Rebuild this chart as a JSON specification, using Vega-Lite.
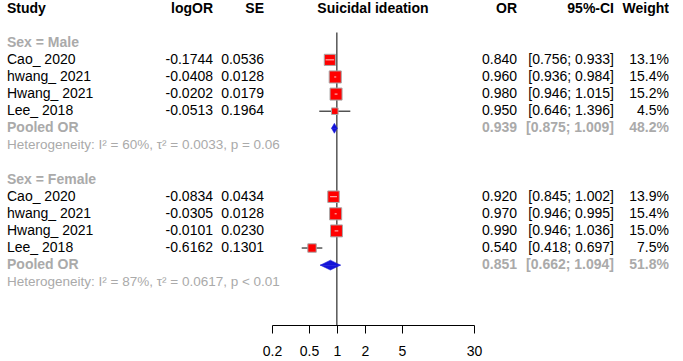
{
  "$schema": "https://vega.github.io/schema/vega-lite/v6.json",
  "padding": {"left": 7, "top": 0, "right": 0, "bottom": 0},
  "spacing": 0,
  "bounds": "flush",
  "config": {
    "view": {"stroke": null},
    "text": {"font": "Liberation Sans", "fontSize": 14, "color": "#000000", "baseline": "middle"},
    "axis": {"labelFont": "Liberation Sans"}
  },
  "datasets": {
    "studies": [
      {"row": 3, "group": "Male", "study": "Cao_ 2020", "logOR": -0.1744, "SE": 0.0536, "OR": 0.840, "lo": 0.756, "hi": 0.933, "weight": 13.1},
      {"row": 4, "group": "Male", "study": "hwang_ 2021", "logOR": -0.0408, "SE": 0.0128, "OR": 0.960, "lo": 0.936, "hi": 0.984, "weight": 15.4},
      {"row": 5, "group": "Male", "study": "Hwang_ 2021", "logOR": -0.0202, "SE": 0.0179, "OR": 0.980, "lo": 0.946, "hi": 1.015, "weight": 15.2},
      {"row": 6, "group": "Male", "study": "Lee_ 2018", "logOR": -0.0513, "SE": 0.1964, "OR": 0.950, "lo": 0.646, "hi": 1.396, "weight": 4.5},
      {"row": 11, "group": "Female", "study": "Cao_ 2020", "logOR": -0.0834, "SE": 0.0434, "OR": 0.920, "lo": 0.845, "hi": 1.002, "weight": 13.9},
      {"row": 12, "group": "Female", "study": "hwang_ 2021", "logOR": -0.0305, "SE": 0.0128, "OR": 0.970, "lo": 0.946, "hi": 0.995, "weight": 15.4},
      {"row": 13, "group": "Female", "study": "Hwang_ 2021", "logOR": -0.0101, "SE": 0.0230, "OR": 0.990, "lo": 0.946, "hi": 1.036, "weight": 15.0},
      {"row": 14, "group": "Female", "study": "Lee_ 2018", "logOR": -0.6162, "SE": 0.1301, "OR": 0.540, "lo": 0.418, "hi": 0.697, "weight": 7.5}
    ],
    "pooled": [
      {"row": 7, "group": "Male", "label": "Pooled OR", "OR": 0.939, "lo": 0.875, "hi": 1.009, "weight": 48.2},
      {"row": 15, "group": "Female", "label": "Pooled OR", "OR": 0.851, "lo": 0.662, "hi": 1.094, "weight": 51.8}
    ],
    "labels": [
      {"row": 2, "kind": "group", "text": "Sex = Male"},
      {"row": 8, "kind": "het", "text": "Heterogeneity: I² = 60%, τ² = 0.0033, p = 0.06"},
      {"row": 10, "kind": "group", "text": "Sex = Female"},
      {"row": 16, "kind": "het", "text": "Heterogeneity: I² = 87%, τ² = 0.0617, p < 0.01"}
    ],
    "headers": [
      {"col": "Study", "text": "Study"},
      {"col": "logOR", "text": "logOR"},
      {"col": "SE", "text": "SE"},
      {"col": "forest", "text": "Suicidal ideation"},
      {"col": "OR", "text": "OR"},
      {"col": "CI", "text": "95%-CI"},
      {"col": "Weight", "text": "Weight"}
    ]
  },
  "hconcat": [
    {
      "width": 150, "height": 325,
      "layer": [
        {"data": {"name": "headers"}, "transform": [{"filter": "datum.col === 'Study'"}],
         "mark": {"type": "text", "align": "left", "fontWeight": "bold"},
         "encoding": {"x": {"value": 0}, "y": {"datum": 0, "type": "quantitative", "scale": {"domain": [-0.5, 18.5], "reverse": true, "nice": false, "zero": false}, "axis": null}, "text": {"field": "text"}}},
        {"data": {"name": "studies"},
         "mark": {"type": "text", "align": "left"},
         "encoding": {"x": {"value": 0}, "y": {"field": "row", "type": "quantitative", "scale": {"domain": [-0.5, 18.5], "reverse": true, "nice": false, "zero": false}, "axis": null}, "text": {"field": "study"}}},
        {"data": {"name": "pooled"},
         "mark": {"type": "text", "align": "left", "fontWeight": "bold", "color": "#aaaaaa"},
         "encoding": {"x": {"value": 0}, "y": {"field": "row", "type": "quantitative", "scale": {"domain": [-0.5, 18.5], "reverse": true, "nice": false, "zero": false}, "axis": null}, "text": {"field": "label"}}},
        {"data": {"name": "labels"}, "transform": [{"filter": "datum.kind === 'group'"}],
         "mark": {"type": "text", "align": "left", "fontWeight": "bold", "color": "#aaaaaa"},
         "encoding": {"x": {"value": 0}, "y": {"field": "row", "type": "quantitative", "scale": {"domain": [-0.5, 18.5], "reverse": true, "nice": false, "zero": false}, "axis": null}, "text": {"field": "text"}}},
        {"data": {"name": "labels"}, "transform": [{"filter": "datum.kind === 'het'"}],
         "mark": {"type": "text", "align": "left", "fontSize": 13.5, "color": "#aaaaaa"},
         "encoding": {"x": {"value": 0}, "y": {"field": "row", "type": "quantitative", "scale": {"domain": [-0.5, 18.5], "reverse": true, "nice": false, "zero": false}, "axis": null}, "text": {"field": "text"}}}
      ]
    },
    {
      "width": 56, "height": 325,
      "layer": [
        {"data": {"name": "headers"}, "transform": [{"filter": "datum.col === 'logOR'"}],
         "mark": {"type": "text", "align": "right", "fontWeight": "bold"},
         "encoding": {"x": {"value": "width"}, "y": {"datum": 0, "type": "quantitative", "scale": {"domain": [-0.5, 18.5], "reverse": true, "nice": false, "zero": false}, "axis": null}, "text": {"field": "text"}}},
        {"data": {"name": "studies"},
         "transform": [{"calculate": "replace(format(datum.logOR, '.4f'), '\u2212', '-')", "as": "lt"}],
         "mark": {"type": "text", "align": "right"},
         "encoding": {"x": {"value": "width"}, "y": {"field": "row", "type": "quantitative", "scale": {"domain": [-0.5, 18.5], "reverse": true, "nice": false, "zero": false}, "axis": null}, "text": {"field": "lt"}}}
      ]
    },
    {
      "width": 59, "height": 325,
      "layer": [
        {"data": {"name": "headers"}, "transform": [{"filter": "datum.col === 'SE'"}],
         "mark": {"type": "text", "align": "right", "fontWeight": "bold", "dx": -8},
         "encoding": {"x": {"value": "width"}, "y": {"datum": 0, "type": "quantitative", "scale": {"domain": [-0.5, 18.5], "reverse": true, "nice": false, "zero": false}, "axis": null}, "text": {"field": "text"}}},
        {"data": {"name": "studies"},
         "mark": {"type": "text", "align": "right", "dx": -8},
         "encoding": {"x": {"value": "width"}, "y": {"field": "row", "type": "quantitative", "scale": {"domain": [-0.5, 18.5], "reverse": true, "nice": false, "zero": false}, "axis": null}, "text": {"field": "SE", "type": "quantitative", "format": ".4f"}}}
      ]
    },
    {
      "width": 202, "height": 325,
      "layer": [
        {"data": {"name": "headers"}, "transform": [{"filter": "datum.col === 'forest'"}],
         "mark": {"type": "text", "align": "center", "fontWeight": "bold"},
         "encoding": {
           "x": {"datum": 2.449, "type": "quantitative", "scale": {"type": "log", "domain": [0.2, 30], "nice": false}, "axis": {"values": [0.2, 0.5, 1, 2, 5, 30], "format": "~g", "title": null, "grid": false, "domainColor": "#000000", "tickColor": "#000000", "tickSize": 8, "labelFontSize": 14, "labelColor": "#000000", "labelPadding": 11, "labelFlush": false, "labelOverlap": false}},
           "y": {"datum": 0, "type": "quantitative", "scale": {"domain": [-0.5, 18.5], "reverse": true, "nice": false, "zero": false}, "axis": null},
           "text": {"field": "text"}}},
        {"data": {"values": [{"ref": 1}]},
         "mark": {"type": "rule", "color": "#000000", "strokeWidth": 1},
         "encoding": {
           "x": {"field": "ref", "type": "quantitative", "scale": {"type": "log", "domain": [0.2, 30], "nice": false}, "axis": {"values": [0.2, 0.5, 1, 2, 5, 30], "format": "~g", "title": null, "grid": false, "domainColor": "#000000", "tickColor": "#000000", "tickSize": 8, "labelFontSize": 14, "labelColor": "#000000", "labelPadding": 11, "labelFlush": false, "labelOverlap": false}},
           "y": {"datum": 1.4, "type": "quantitative", "scale": {"domain": [-0.5, 18.5], "reverse": true, "nice": false, "zero": false}, "axis": null},
           "y2": {"datum": 18.5}}},
        {"data": {"name": "studies"},
         "mark": {"type": "rule", "color": "#000000", "strokeWidth": 1},
         "encoding": {
           "x": {"field": "lo", "type": "quantitative", "scale": {"type": "log", "domain": [0.2, 30], "nice": false}, "axis": {"values": [0.2, 0.5, 1, 2, 5, 30], "format": "~g", "title": null, "grid": false, "domainColor": "#000000", "tickColor": "#000000", "tickSize": 8, "labelFontSize": 14, "labelColor": "#000000", "labelPadding": 11, "labelFlush": false, "labelOverlap": false}},
           "x2": {"field": "hi"},
           "y": {"field": "row", "type": "quantitative", "scale": {"domain": [-0.5, 18.5], "reverse": true, "nice": false, "zero": false}, "axis": null}}},
        {"data": {"name": "studies"},
         "mark": {"type": "point", "shape": "square", "filled": true, "fill": "#ff0000", "stroke": "#a8a8a8", "strokeWidth": 1, "opacity": 1},
         "encoding": {
           "x": {"field": "OR", "type": "quantitative", "scale": {"type": "log", "domain": [0.2, 30], "nice": false}, "axis": {"values": [0.2, 0.5, 1, 2, 5, 30], "format": "~g", "title": null, "grid": false, "domainColor": "#000000", "tickColor": "#000000", "tickSize": 8, "labelFontSize": 14, "labelColor": "#000000", "labelPadding": 11, "labelFlush": false, "labelOverlap": false}},
           "y": {"field": "row", "type": "quantitative", "scale": {"domain": [-0.5, 18.5], "reverse": true, "nice": false, "zero": false}, "axis": null},
           "size": {"field": "weight", "type": "quantitative", "scale": {"domain": [0, 20], "range": [0, 190]}, "legend": null}}},
        {"data": {"name": "studies"}, "transform": [{"filter": "datum.hi / datum.lo < 1.5"}],
         "mark": {"type": "rule", "color": "#ffffff", "strokeWidth": 0.8},
         "encoding": {
           "x": {"field": "lo", "type": "quantitative", "scale": {"type": "log", "domain": [0.2, 30], "nice": false}, "axis": {"values": [0.2, 0.5, 1, 2, 5, 30], "format": "~g", "title": null, "grid": false, "domainColor": "#000000", "tickColor": "#000000", "tickSize": 8, "labelFontSize": 14, "labelColor": "#000000", "labelPadding": 11, "labelFlush": false, "labelOverlap": false}},
           "x2": {"field": "hi"},
           "y": {"field": "row", "type": "quantitative", "scale": {"domain": [-0.5, 18.5], "reverse": true, "nice": false, "zero": false}, "axis": null}}},
        {"data": {"name": "pooled"},
         "transform": [
           {"fold": ["lo", "OR", "hi"], "as": ["k", "v"]},
           {"calculate": "datum.row - (datum.k === 'OR' ? 0.29 : 0)", "as": "yy"}
         ],
         "mark": {"type": "line", "interpolate": "linear-closed", "fill": "#1414d8", "stroke": "#1414d8", "strokeWidth": 0.5, "opacity": 1},
         "encoding": {
           "x": {"field": "v", "type": "quantitative", "scale": {"type": "log", "domain": [0.2, 30], "nice": false}, "axis": {"values": [0.2, 0.5, 1, 2, 5, 30], "format": "~g", "title": null, "grid": false, "domainColor": "#000000", "tickColor": "#000000", "tickSize": 8, "labelFontSize": 14, "labelColor": "#000000", "labelPadding": 11, "labelFlush": false, "labelOverlap": false}},
           "y": {"field": "yy", "type": "quantitative", "scale": {"domain": [-0.5, 18.5], "reverse": true, "nice": false, "zero": false}, "axis": null},
           "detail": {"field": "group", "type": "nominal"},
           "order": {"field": "v", "type": "quantitative"}}},
        {"data": {"name": "pooled"},
         "transform": [
           {"fold": ["lo", "OR", "hi"], "as": ["k", "v"]},
           {"calculate": "datum.row + (datum.k === 'OR' ? 0.29 : 0)", "as": "yy"}
         ],
         "mark": {"type": "line", "interpolate": "linear-closed", "fill": "#1414d8", "stroke": "#1414d8", "strokeWidth": 0.5, "opacity": 1},
         "encoding": {
           "x": {"field": "v", "type": "quantitative", "scale": {"type": "log", "domain": [0.2, 30], "nice": false}, "axis": {"values": [0.2, 0.5, 1, 2, 5, 30], "format": "~g", "title": null, "grid": false, "domainColor": "#000000", "tickColor": "#000000", "tickSize": 8, "labelFontSize": 14, "labelColor": "#000000", "labelPadding": 11, "labelFlush": false, "labelOverlap": false}},
           "y": {"field": "yy", "type": "quantitative", "scale": {"domain": [-0.5, 18.5], "reverse": true, "nice": false, "zero": false}, "axis": null},
           "detail": {"field": "group", "type": "nominal"},
           "order": {"field": "v", "type": "quantitative"}}}
      ]
    },
    {
      "width": 43, "height": 325,
      "layer": [
        {"data": {"name": "headers"}, "transform": [{"filter": "datum.col === 'OR'"}],
         "mark": {"type": "text", "align": "right", "fontWeight": "bold"},
         "encoding": {"x": {"value": "width"}, "y": {"datum": 0, "type": "quantitative", "scale": {"domain": [-0.5, 18.5], "reverse": true, "nice": false, "zero": false}, "axis": null}, "text": {"field": "text"}}},
        {"data": {"name": "studies"},
         "mark": {"type": "text", "align": "right"},
         "encoding": {"x": {"value": "width"}, "y": {"field": "row", "type": "quantitative", "scale": {"domain": [-0.5, 18.5], "reverse": true, "nice": false, "zero": false}, "axis": null}, "text": {"field": "OR", "type": "quantitative", "format": ".3f"}}},
        {"data": {"name": "pooled"},
         "mark": {"type": "text", "align": "right", "fontWeight": "bold", "color": "#aaaaaa"},
         "encoding": {"x": {"value": "width"}, "y": {"field": "row", "type": "quantitative", "scale": {"domain": [-0.5, 18.5], "reverse": true, "nice": false, "zero": false}, "axis": null}, "text": {"field": "OR", "type": "quantitative", "format": ".3f"}}}
      ]
    },
    {
      "width": 97, "height": 325,
      "layer": [
        {"data": {"name": "headers"}, "transform": [{"filter": "datum.col === 'CI'"}],
         "mark": {"type": "text", "align": "right", "fontWeight": "bold"},
         "encoding": {"x": {"value": "width"}, "y": {"datum": 0, "type": "quantitative", "scale": {"domain": [-0.5, 18.5], "reverse": true, "nice": false, "zero": false}, "axis": null}, "text": {"field": "text"}}},
        {"data": {"name": "studies"},
         "transform": [{"calculate": "'[' + format(datum.lo, '.3f') + '; ' + format(datum.hi, '.3f') + ']'", "as": "ci"}],
         "mark": {"type": "text", "align": "right"},
         "encoding": {"x": {"value": "width"}, "y": {"field": "row", "type": "quantitative", "scale": {"domain": [-0.5, 18.5], "reverse": true, "nice": false, "zero": false}, "axis": null}, "text": {"field": "ci"}}},
        {"data": {"name": "pooled"},
         "transform": [{"calculate": "'[' + format(datum.lo, '.3f') + '; ' + format(datum.hi, '.3f') + ']'", "as": "ci"}],
         "mark": {"type": "text", "align": "right", "fontWeight": "bold", "color": "#aaaaaa"},
         "encoding": {"x": {"value": "width"}, "y": {"field": "row", "type": "quantitative", "scale": {"domain": [-0.5, 18.5], "reverse": true, "nice": false, "zero": false}, "axis": null}, "text": {"field": "ci"}}}
      ]
    },
    {
      "width": 55, "height": 325,
      "layer": [
        {"data": {"name": "headers"}, "transform": [{"filter": "datum.col === 'Weight'"}],
         "mark": {"type": "text", "align": "right", "fontWeight": "bold"},
         "encoding": {"x": {"value": "width"}, "y": {"datum": 0, "type": "quantitative", "scale": {"domain": [-0.5, 18.5], "reverse": true, "nice": false, "zero": false}, "axis": null}, "text": {"field": "text"}}},
        {"data": {"name": "studies"},
         "transform": [{"calculate": "format(datum.weight, '.1f') + '%'", "as": "wt"}],
         "mark": {"type": "text", "align": "right"},
         "encoding": {"x": {"value": "width"}, "y": {"field": "row", "type": "quantitative", "scale": {"domain": [-0.5, 18.5], "reverse": true, "nice": false, "zero": false}, "axis": null}, "text": {"field": "wt"}}},
        {"data": {"name": "pooled"},
         "transform": [{"calculate": "format(datum.weight, '.1f') + '%'", "as": "wt"}],
         "mark": {"type": "text", "align": "right", "fontWeight": "bold", "color": "#aaaaaa"},
         "encoding": {"x": {"value": "width"}, "y": {"field": "row", "type": "quantitative", "scale": {"domain": [-0.5, 18.5], "reverse": true, "nice": false, "zero": false}, "axis": null}, "text": {"field": "wt"}}}
      ]
    }
  ]
}
